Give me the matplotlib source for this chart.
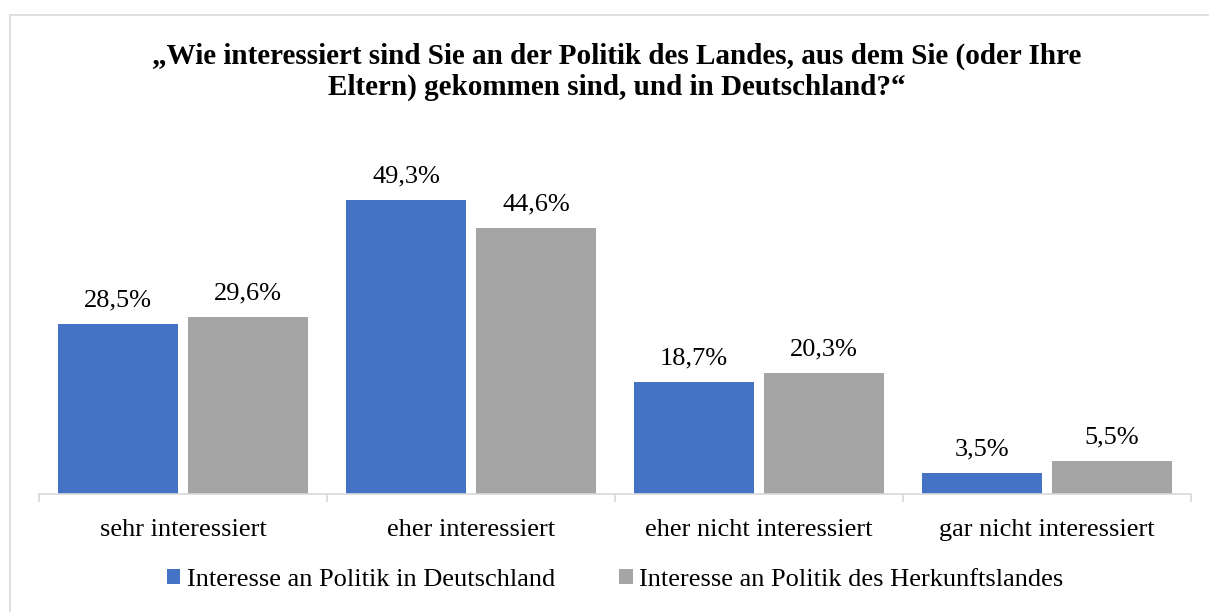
import numpy as np
import matplotlib.pyplot as plt
from matplotlib.patches import Rectangle

categories = ["sehr interessiert", "eher interessiert", "eher nicht interessiert", "gar nicht interessiert"]
deutschland = [28.5, 49.3, 18.7, 3.5]
herkunft = [29.6, 44.6, 20.3, 5.5]
labels_de = ["28,5%", "49,3%", "18,7%", "3,5%"]
labels_hk = ["29,6%", "44,6%", "20,3%", "5,5%"]
series_names = ["Interesse an Politik in Deutschland", "Interesse an Politik des Herkunftslandes"]
title = "\u201eWie interessiert sind Sie an der Politik des Landes, aus dem Sie (oder Ihre\nEltern) gekommen sind, und in Deutschland?\u201c"

plt.rcParams['font.family'] = ['Liberation Serif', 'DejaVu Serif']

W, H = 1209, 612
fig = plt.figure(figsize=(W / 100, H / 100), dpi=100)

# chart border (cropped at right/bottom)
fig.patches.append(Rectangle((10 / W, -0.1), 1.2, 1.1 - 15 / H, transform=fig.transFigure,
                             fill=False, edgecolor='#D9D9D9', linewidth=1.2))

ax = fig.add_axes([39 / W, 1 - 494 / H, (1191 - 39) / W, (494 - 136) / H])
x = np.arange(len(categories))
bw = 120 / 288
gap = 10 / 288
b1 = ax.bar(x - bw / 2 - gap / 2, deutschland, bw, color='#4472C4', label=series_names[0])
b2 = ax.bar(x + bw / 2 + gap / 2, herkunft, bw, color='#A5A5A5', label=series_names[1])

for bars, labs in ((b1, labels_de), (b2, labels_hk)):
    for rect, lab in zip(bars, labs):
        ax.annotate(lab, (rect.get_x() + rect.get_width() / 2, rect.get_height()),
                    xytext=(0, 9), textcoords='offset points', ha='center', va='bottom', fontsize=19)

ax.set_xlim(-0.5, 3.5)
ax.set_ylim(0, 60)
for s in ['top', 'right', 'left']:
    ax.spines[s].set_visible(False)
ax.spines['bottom'].set_color('#D9D9D9')
ax.spines['bottom'].set_linewidth(1.2)
ax.set_yticks([])
ax.set_xticks([-0.5, 0.5, 1.5, 2.5, 3.5], minor=False)
ax.set_xticklabels([])
ax.tick_params(axis='x', which='major', length=6, color='#D9D9D9', width=1.2)
ax.set_xticks(x, minor=True)
ax.set_xticklabels(categories, minor=True, fontsize=19)
ax.tick_params(axis='x', which='minor', length=0, pad=18)

fig.text(617 / W, 1 - 72 / H, title, ha='center', va='center', fontsize=21,
         fontweight='bold', linespacing=1.18)

fig.legend(handles=[b1, b2], loc='center', bbox_to_anchor=(615 / W, 1 - 580 / H), ncol=2,
           frameon=False, fontsize=19, handlelength=0.53, handleheight=0.53,
           handletextpad=0.25, columnspacing=2.4)

fig.savefig('out.png', dpi=100, facecolor='white')
